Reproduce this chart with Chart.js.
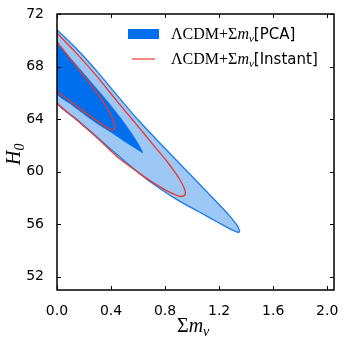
<!DOCTYPE html>
<html>
<head>
<meta charset="utf-8">
<script src="https://cdn.jsdelivr.net/npm/chart.js@4.4.1/dist/chart.umd.min.js"></script>
<style>
  html, body { margin: 0; padding: 0; background: #fff; }
  #wrap { width: 346px; height: 346px; }
</style>
</head>
<body>
<div id="wrap"><canvas id="contourChart"></canvas></div>
<script>
// axis ticks
const xTicks = [0, 0.4, 0.8, 1.2, 1.6, 2.0];
const yTicks = [52, 56, 60, 64, 68, 72];
const seriesNames = ["PCA", "Instant"];

// PCA 95% contour (outer, light): upper edge to the tip, then lower edge back
const pca95X = [0, 0.15, 0.3, 0.45, 0.6, 0.75, 0.9, 1.05, 1.2, 1.28, 1.33, 1.352,
                1.34, 1.3, 1.2, 1.05, 0.9, 0.75, 0.6, 0.45, 0.3, 0.15, 0, 0];
const pca95Y = [70.8, 69.3, 67.6, 65.75, 63.95, 62.3, 60.7, 59.1, 57.5, 56.6, 55.95, 55.45,
                55.38, 55.55, 56.1, 56.95, 57.8, 58.8, 59.95, 61.25, 62.6, 63.95, 65.3, 70.8];

// PCA 68% contour (inner, dark)
const pca68X = [0, 0.12, 0.25, 0.37, 0.47, 0.55, 0.6, 0.635, 0.6, 0.5, 0.43, 0.3, 0.23, 0.1, 0, 0];
const pca68Y = [69.75, 68.4, 66.85, 65.4, 64.1, 62.95, 62.15, 61.45, 61.65, 62.3, 62.8, 63.65, 64.15, 65.15, 65.95, 69.75];

// Instant 95% contour (red)
const inst95X = [0, 0.15, 0.3, 0.45, 0.6, 0.72, 0.82, 0.88, 0.92, 0.943, 0.95,
                 0.94, 0.91, 0.87, 0.8, 0.7, 0.6, 0.45, 0.3, 0.15, 0];
const inst95Y = [70.55, 68.95, 67.2, 65.3, 63.45, 61.95, 60.7, 59.85, 59.2, 58.7, 58.35,
                 58.18, 58.12, 58.27, 58.62, 59.25, 59.95, 61.1, 62.55, 63.9, 65.2];

// Instant 68% contour (red)
const inst68X = [0, 0.12, 0.25, 0.34, 0.39, 0.42, 0.43, 0.415, 0.38, 0.3, 0.23, 0.1, 0];
const inst68Y = [69.9, 68.3, 66.6, 65.35, 64.5, 63.8, 63.4, 63.17, 63.3, 63.85, 64.35, 65.35, 66.1];

const pts = (xs, ys) => xs.map((x, i) => ({ x: x, y: ys[i] }));

const darkBlue = "#006FED";
const lightBlue = "#9DC8F6";
const edgeBlue = "#1D7BEA";
const red = "#E8392A";

const mathFont = "'Liberation Serif', serif";
const sansFont = "'DejaVu Sans', sans-serif";

// draws a run of text pieces [text, font, dy]
function drawRun(ctx, parts, x, y) {
  parts.forEach(p => {
    ctx.font = p[1];
    ctx.fillText(p[0], x, y + (p[2] || 0));
    x += ctx.measureText(p[0]).width;
  });
  return x;
}

const decor = {
  id: "decor",
  afterDraw(chart) {
    const { ctx, chartArea: a, scales } = chart;
    const sx = scales.x, sy = scales.y;
    ctx.save();
    ctx.strokeStyle = "#000";
    ctx.lineWidth = 1;
    ctx.beginPath();
    xTicks.forEach(v => {
      const px = Math.round(sx.getPixelForValue(v)) + 0.5;
      ctx.moveTo(px, a.bottom); ctx.lineTo(px, a.bottom - 4);
      ctx.moveTo(px, a.top); ctx.lineTo(px, a.top + 4);
    });
    yTicks.forEach(v => {
      const py = Math.round(sy.getPixelForValue(v)) + 0.5;
      ctx.moveTo(a.left, py); ctx.lineTo(a.left + 4, py);
      ctx.moveTo(a.right, py); ctx.lineTo(a.right - 4, py);
    });
    ctx.stroke();
    ctx.lineWidth = 1.5;
    ctx.strokeRect(a.left, a.top, a.right - a.left, a.bottom - a.top);

    // legend
    ctx.fillStyle = darkBlue;
    ctx.fillRect(128, 29, 31, 10);
    ctx.strokeStyle = red;
    ctx.lineWidth = 1.2;
    ctx.beginPath();
    ctx.moveTo(132, 59); ctx.lineTo(155, 59);
    ctx.stroke();
    ctx.fillStyle = "#000";
    ctx.textBaseline = "alphabetic";
    ctx.textAlign = "left";
    [38.5, 63.5].forEach((by, i) => {
      drawRun(ctx, [
        ["ΛCDM+Σ", "16px " + mathFont],
        ["m", "italic 16px " + mathFont],
        ["ν", "italic 11px " + mathFont, 3],
        ["[" + seriesNames[i] + "]", "15px " + sansFont]
      ], 171, by);
    });

    // x title
    drawRun(ctx, [
      ["Σ", "20px " + mathFont],
      ["m", "italic 20px " + mathFont],
      ["ν", "italic 14px " + mathFont, 4]
    ], 177, 332);

    // y title
    ctx.translate(20, 165);
    ctx.rotate(-Math.PI / 2);
    drawRun(ctx, [
      ["H", "italic 20px " + mathFont],
      ["0", "italic 14px " + mathFont, 4]
    ], 0, 0);
    ctx.restore();
  }
};

const ctx = document.getElementById("contourChart").getContext("2d");
new Chart(ctx, {
  type: "scatter",
  data: {
    datasets: [
      {
        label: "Instant 68",
        data: pts(inst68X, inst68Y),
        showLine: true, fill: false, tension: 0.25,
        borderColor: red, borderWidth: 1.3, pointRadius: 0, clip: 0, order: 0
      },
      {
        label: "Instant 95",
        data: pts(inst95X, inst95Y),
        showLine: true, fill: false, tension: 0.25,
        borderColor: red, borderWidth: 1.3, pointRadius: 0, clip: 0, order: 1
      },
      {
        label: "PCA 68",
        data: pts(pca68X, pca68Y),
        showLine: true, fill: "shape", tension: 0.2,
        backgroundColor: darkBlue, borderColor: darkBlue, borderWidth: 0.5, pointRadius: 0, clip: 0, order: 2
      },
      {
        label: "PCA 95",
        data: pts(pca95X, pca95Y),
        showLine: true, fill: "shape", tension: 0.25,
        backgroundColor: lightBlue, borderColor: edgeBlue, borderWidth: 1.3, pointRadius: 0, clip: 0, order: 3
      }
    ]
  },
  options: {
    responsive: true,
    maintainAspectRatio: false,
    animation: false,
    layout: { padding: { top: 14, right: 12, left: 0, bottom: 0 } },
    plugins: { legend: { display: false }, tooltip: { enabled: false } },
    scales: {
      x: {
        type: "linear",
        min: 0, max: 2.05,
        afterFit(s) { s.height = 56; },
        afterBuildTicks(s) { s.ticks = xTicks.map(v => ({ value: v })); },
        grid: { display: false },
        border: { display: false },
        ticks: {
          color: "#000", padding: 5,
          font: { family: "DejaVu Sans", size: 14 },
          callback: v => v.toFixed(1)
        }
      },
      y: {
        type: "linear",
        min: 51, max: 72,
        afterFit(s) { s.width = 57; },
        afterBuildTicks(s) { s.ticks = yTicks.map(v => ({ value: v })); },
        grid: { display: false },
        border: { display: false },
        ticks: {
          color: "#000", padding: 5,
          font: { family: "DejaVu Sans", size: 14 }
        }
      }
    }
  },
  plugins: [decor]
});
</script>
</body>
</html>
